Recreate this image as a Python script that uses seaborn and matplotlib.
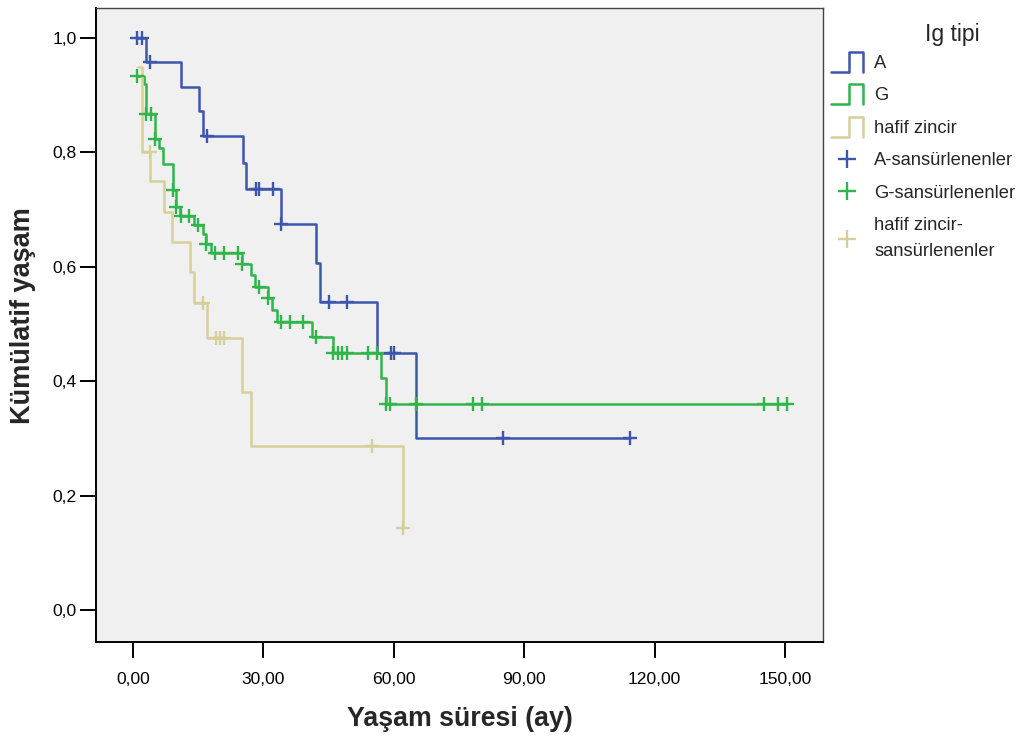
import numpy as np
import pandas as pd
import seaborn as sns
import matplotlib
matplotlib.use("Agg")
import matplotlib.pyplot as plt
from matplotlib.lines import Line2D
from matplotlib.legend_handler import HandlerBase
from matplotlib.ticker import FuncFormatter

# ---------------- data ----------------
groups = ["A", "G", "hafif zincir"]

a_times = [1.0, 3.0, 11.0, 15.1, 16.0, 25.2, 26.1, 34.1, 42.1, 43.0, 56.2, 65.2]
a_surv = [1.0, 0.958, 0.915, 0.872, 0.828, 0.781, 0.736, 0.674, 0.607, 0.539, 0.449, 0.300]
a_cens = [1.0, 2.0, 4.0, 17.0, 28.2, 29.1, 32.1, 34.1, 45.2, 49.2, 59.4, 60.0, 85.2, 114.3]

g_times = [1.0, 2.5, 3.1, 5.1, 6.0, 7.0, 9.1, 10.0, 10.8, 14.1, 16.0, 16.9, 17.9,
           25.0, 27.1, 28.1, 31.1, 32.0, 33.1, 41.1, 46.1, 57.1, 58.2]
g_surv = [0.934, 0.920, 0.867, 0.823, 0.808, 0.779, 0.735, 0.705, 0.689, 0.673, 0.657,
          0.640, 0.624, 0.605, 0.586, 0.565, 0.546, 0.524, 0.503, 0.477, 0.449, 0.405, 0.360]
g_cens = [1.0, 3.1, 4.1, 5.1, 9.1, 10.0, 11.0, 13.0, 15.0, 16.9, 18.9, 21.0, 24.1, 25.0,
          29.0, 31.1, 34.0, 36.1, 39.0, 42.1, 46.1, 47.1, 48.1, 49.2, 54.1, 56.2, 58.3,
          59.1, 65.2, 78.1, 80.2, 145.2, 148.3, 150.4]

h_times = [1.2, 2.0, 4.0, 7.1, 9.0, 13.1, 14.0, 17.1, 25.1, 27.1, 62.1]
h_surv = [0.950, 0.800, 0.750, 0.696, 0.643, 0.590, 0.536, 0.476, 0.381, 0.286, 0.143]
h_cens = [3.9, 16.0, 19.1, 20.0, 20.9, 55.0, 62.1]

colors = ["#3d55ab", "#2fb54a", "#d6cf9a"]
censor_labels = ["A-sansürlenenler", "G-sansürlenenler", "hafif zincir-\nsansürlenenler"]
legend_title = "Ig tipi"

y_ticks = [0.0, 0.2, 0.4, 0.6, 0.8, 1.0]
x_ticks = [0, 30, 60, 90, 120, 150]

# ---------------- build tables ----------------
series = {
    "A": (a_times, a_surv, a_cens),
    "G": (g_times, g_surv, g_cens),
    "hafif zincir": (h_times, h_surv, h_cens),
}

line_rows, cens_rows = [], []
for grp, (t, s, c) in series.items():
    t = list(t); s = list(s)
    last_t = max(max(c), t[-1])
    xs = t + [last_t]
    ys = s + [s[-1]]
    for xx, yy in zip(xs, ys):
        line_rows.append({"grp": grp, "t": xx, "s": yy})
    tarr = np.array(t)
    for cc in c:
        idx = max(np.searchsorted(tarr, cc, side="right") - 1, 0)
        cens_rows.append({"grp": grp, "t": cc, "s": s[idx]})

lines_df = pd.DataFrame(line_rows)
cens_df = pd.DataFrame(cens_rows)

# ---------------- plot ----------------
sns.set_style("white")
plt.rcParams["font.family"] = ["Liberation Sans", "DejaVu Sans"]

fig = plt.figure(figsize=(10.25, 7.38), dpi=100)
ax = fig.add_axes([96 / 1025, 1 - 642 / 738, (823 - 96) / 1025, (642 - 8) / 738])
ax.set_facecolor("#f0f0f0")

palette = dict(zip(groups, colors))
for grp in groups:
    d = lines_df[lines_df.grp == grp]
    sns.lineplot(data=d, x="t", y="s", ax=ax, color=palette[grp], estimator=None,
                 sort=False, drawstyle="steps-post", linewidth=1.8, legend=False)
for grp in groups:
    d = cens_df[cens_df.grp == grp]
    sns.scatterplot(data=d, x="t", y="s", ax=ax, color=palette[grp], marker="+",
                    s=100, linewidth=1.7, legend=False, zorder=3)

ax.set_xlim(-8.5, 158.7)
ax.set_ylim(-0.056, 1.0524)
ax.set_xticks(x_ticks)
ax.set_yticks(y_ticks)
ax.xaxis.set_major_formatter(FuncFormatter(lambda v, p: f"{v:.2f}".replace(".", ",")))
ax.yaxis.set_major_formatter(FuncFormatter(lambda v, p: f"{v:.1f}".replace(".", ",")))
ax.tick_params(axis="both", direction="out", length=11.5, width=1.4, color="black",
               labelsize=12.6, labelcolor="black", left=True, bottom=True)
ax.tick_params(axis="x", pad=10)
ax.tick_params(axis="y", pad=2.5)
for side in ["left", "bottom"]:
    ax.spines[side].set_color("black")
    ax.spines[side].set_linewidth(1.4)
for side in ["top", "right"]:
    ax.spines[side].set_color("#444444")
    ax.spines[side].set_linewidth(1.0)

ax.set_xlabel("Yaşam süresi (ay)", fontsize=19.3, fontweight="bold", labelpad=14)
ax.set_ylabel("Kümülatif yaşam", fontsize=19.5, fontweight="bold")
ax.yaxis.set_label_coords(-0.082, 0.514)


# ---------------- legend ----------------
class StepHandler(HandlerBase):
    def create_artists(self, legend, orig_handle, xdescent, ydescent, width, height,
                       fontsize, trans):
        x0 = -xdescent
        y0 = -ydescent - 0.3 * height
        y1 = -ydescent + 1.25 * height
        xm = x0 + 0.55 * width
        xs = [x0, xm, xm, x0 + width, x0 + width]
        ys = [y0, y0, y1, y1, y0]
        ln = Line2D(xs, ys, color=orig_handle.get_color(), linewidth=1.8)
        ln.set_transform(trans)
        return [ln]


line_handles = [Line2D([], [], color=c) for c in colors]
cens_handles = [Line2D([], [], color=c, marker="+", linestyle="none", markersize=13,
                       markeredgewidth=1.7) for c in colors]
handles = line_handles + cens_handles
labels = groups + censor_labels
hmap = {h: StepHandler() for h in line_handles}

fig.text(952 / 1025, 1 - 35 / 738, legend_title, fontsize=16.5, ha="center", va="center")
leg = fig.legend(handles, labels, handler_map=hmap, loc="upper left",
                 bbox_to_anchor=(831 / 1025, 1 - 55 / 738), frameon=False,
                 fontsize=13.2, handlelength=1.75, handletextpad=0.6, labelspacing=0.84,
                 borderaxespad=0, borderpad=0)
for txt in leg.get_texts():
    txt.set_linespacing(1.7)

fig.savefig("out.png", dpi=100, facecolor="white")
